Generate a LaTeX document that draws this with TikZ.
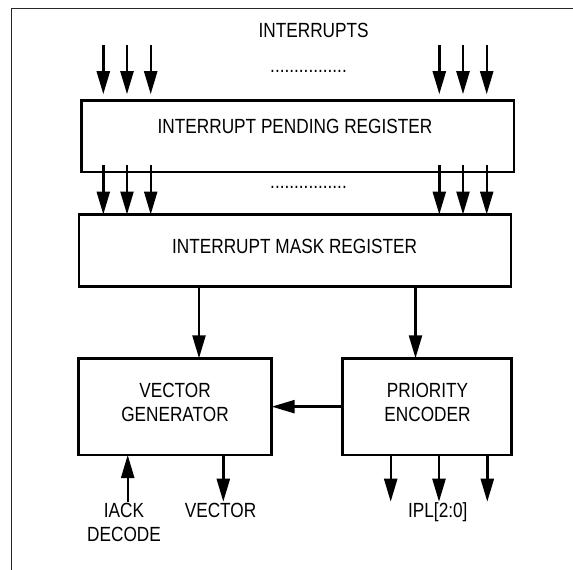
\documentclass[tikz,border=0pt]{standalone}
\usepackage{fontspec}
\setmainfont{Liberation Sans}[FakeStretch=0.84]
\usetikzlibrary{arrows.meta}
\begin{document}
\begin{tikzpicture}[x=1pt,y=-1pt,
  every node/.style={font=\fontsize{20.5}{24}\selectfont, inner sep=0pt},
  regbox/.style={draw, line width=2.7pt, inner sep=0pt, outer sep=0pt, anchor=north west},
  arr/.style={line width=2.4pt, -{Triangle[length=23pt,width=13pt]}},
  frameline/.style={line width=1pt, black!85}]

\useasboundingbox (0,0) rectangle (573,570);

% outer frame (left and top edges only)
\draw[frameline] (11.7,570) -- (11.7,8.3) -- (573,8.3);

% register and logic blocks
\node[regbox, minimum width=432.3pt, minimum height=71.3pt] (ipr) at (81.7,100.7) {};
\node[regbox, minimum width=432pt, minimum height=72.2pt] (imr) at (79,214.5) {};
\node[regbox, minimum width=193.2pt, minimum height=96.7pt] (vg) at (78.5,358.3) {};
\node[regbox, minimum width=168.8pt, minimum height=96.7pt] (pe) at (342.7,358.3) {};

% labels
\node[anchor=base] (intlabel) at (313.6,37.3) {INTERRUPTS};
\node[anchor=base] (dotsA) at (308.5,72.8) {................};
\node[anchor=base] (dotsB) at (308.5,188.8) {................};
\node[anchor=base] (iprtext) at (295,133.3) {INTERRUPT PENDING REGISTER};
\node[anchor=base] (imrtext) at (294.6,253.3) {INTERRUPT MASK REGISTER};
\node[align=center] (vgtext) at (175,402.1) {VECTOR\\GENERATOR};
\node[align=center] (petext) at (427.5,402.1) {PRIORITY\\ENCODER};
\node[align=center] (iacktext) at (124,522) {IACK\\DECODE};
\node[anchor=base] (vectext) at (220.5,517.3) {VECTOR};
\node[anchor=base] (ipltext) at (437.8,517.3) {IPL[2:0]};

% interrupt input lines
\foreach \n/\x in {a/103.3, b/127, c/150.7, d/439.3, e/463, f/486.7}
  \coordinate (in\n) at (\x,45);
\coordinate (iprlow) at ([yshift=7pt]ipr.south);
\foreach \n in {a,b,c,d,e,f} {
  \draw[arr, shorten >=6.5pt] (in\n) -- (in\n |- ipr.north);
  \draw[arr] (iprlow -| in\n) -- (imr.north -| in\n);
}

% mask register outputs
\coordinate (tapv) at (199,300);
\coordinate (tapp) at (415.5,300);
\draw[arr] (imr.south -| tapv) -- (vg.north -| tapv);
\draw[arr] (imr.south -| tapp) -- (pe.north -| tapp);

% encoder to vector generator
\draw[arr] (pe.west) -- (vg.east |- pe.west);

% vector generator signals
\coordinate (iackin) at (127.7,501.7);
\coordinate (vecout) at (223.3,501.7);
\draw[arr] (iackin) -- (vg.south -| iackin);
\draw[arr] (vg.south -| vecout) -- (vecout);

% priority level outputs
\coordinate (ipl2) at (390.7,501.7);
\coordinate (ipl1) at (439,501.7);
\coordinate (ipl0) at (487.3,501.7);
\foreach \p in {ipl2, ipl1, ipl0}
  \draw[arr] (pe.south -| \p) -- (\p);

\end{tikzpicture}
\end{document}
